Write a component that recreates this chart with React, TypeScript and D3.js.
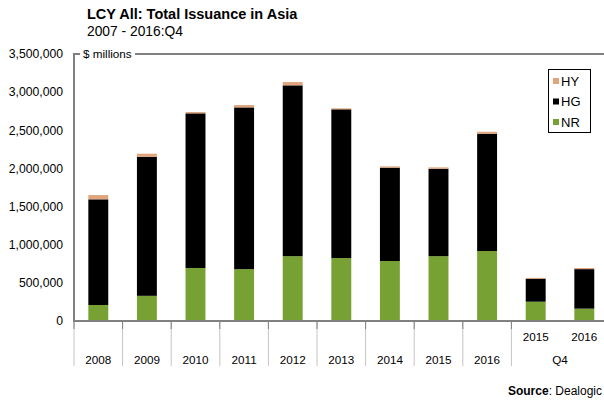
import React, { useEffect } from 'react';
import * as d3 from 'd3';

// categories: annual totals, then Q4 comparisons
const categories = ['2008', '2009', '2010', '2011', '2012', '2013', '2014', '2015', '2016', 'Q4 2015', 'Q4 2016'];
const tickLabels = ['2008', '2009', '2010', '2011', '2012', '2013', '2014', '2015', '2016', '2015', '2016'];

// $ millions
const nrValues = [210000, 330000, 695000, 680000, 850000, 825000, 786000, 850000, 917000, 253000, 162000];
const hgValues = [1385000, 1823000, 2027000, 2120000, 2239000, 1950000, 1224000, 1146000, 1538000, 302000, 518000];
const hyValues = [56000, 40000, 17000, 31000, 43000, 13000, 17000, 18000, 26000, 10000, 15000];

const yTicks = [0, 500000, 1000000, 1500000, 2000000, 2500000, 3000000, 3500000];

const seriesKeys = ['NR', 'HG', 'HY'];
const seriesColors: Record<string, string> = { NR: '#78a133', HG: '#000000', HY: '#e0a57c' };

const W = 604;
const H = 403;
const left = 74;
const top = 54;
const bottom = 321;

export default function App() {
  useEffect(() => {
    document.body.style.margin = '0';
  }, []);

  const rows = categories.map((c, i) => ({ cat: c, NR: nrValues[i], HG: hgValues[i], HY: hyValues[i] }));
  const stacked = d3.stack<any>().keys(seriesKeys)(rows);

  const x = d3.scaleBand<string>()
    .domain(categories)
    .range([left, left + 11 * 48.6])
    .paddingInner(0.59)
    .paddingOuter(0.295);
  const y = d3.scaleLinear().domain([0, 3500000]).range([bottom, top]);
  const step = x.step();
  const fmt = d3.format(',');
  const font = 'Arial, "Liberation Sans", Helvetica, sans-serif';

  return (
    <svg width={W} height={H} style={{ display: 'block', fontFamily: font }}>
      <rect width={W} height={H} fill="#fff" />
      <text x={87} y={19} fontSize={14.5} fontWeight="bold" fill="#000">LCY All:  Total Issuance in Asia</text>
      <text x={87} y={36} fontSize={13.8} fill="#000">2007 - 2016:Q4</text>

      {yTicks.map(t => (
        <text key={t} x={63} y={y(t)} dy="0.35em" textAnchor="end" fontSize={12.2} fill="#000">{fmt(t)}</text>
      ))}

      {stacked.map(s => (
        <g key={s.key} fill={seriesColors[s.key]}>
          {s.map((d, i) => (
            <rect key={i} x={x(categories[i])} width={x.bandwidth()} y={y(d[1])} height={Math.max(0, y(d[0]) - y(d[1]))} />
          ))}
        </g>
      ))}

      {/* category separators below the axis */}
      {d3.range(0, 11).filter(i => i !== 10).map(i => {
        const sx = left + i * step;
        return (
          <g key={i}>
            <line x1={sx} x2={sx} y1={bottom} y2={366} stroke="#c4c4c4" strokeWidth={1} />
            <line x1={sx} x2={sx} y1={bottom} y2={329} stroke="#808080" strokeWidth={1} />
          </g>
        );
      })}

      {tickLabels.map((t, i) => (
        <text key={i} x={(x(categories[i]) as number) + x.bandwidth() / 2} y={363.5 - (i < 9 ? 0 : 23)}
          textAnchor="middle" fontSize={11.7} fill="#000">{t}</text>
      ))}
      <text x={left + 10 * step} y={363.5} textAnchor="middle" fontSize={11.7} fill="#000">Q4</text>

      {/* axis frame */}
      <line x1={left} x2={left} y1={top} y2={bottom} stroke="#808080" strokeWidth={2} />
      <line x1={left - 1} x2={W} y1={bottom} y2={bottom} stroke="#808080" strokeWidth={2} />
      <line x1={left - 1} x2={80} y1={top} y2={top} stroke="#808080" strokeWidth={2} />
      <line x1={135} x2={W} y1={top} y2={top} stroke="#808080" strokeWidth={2} />
      <text x={83} y={top} dy="0.35em" fontSize={11.7} fill="#000">$ millions</text>

      {/* legend */}
      <rect x={548.5} y={69.5} width={42} height={63} fill="#fff" stroke="#000" strokeWidth={1} />
      {['HY', 'HG', 'NR'].map((k, i) => (
        <g key={k}>
          <rect x={553} y={78 + i * 20.5} width={6} height={6} fill={seriesColors[k]} />
          <text x={561} y={81 + i * 20.5} dy="0.35em" fontSize={13} fill="#000">{k}</text>
        </g>
      ))}

      <text x={602} y={395} textAnchor="end" fontSize={12} fill="#000">
        <tspan fontWeight="bold">Source</tspan>: Dealogic
      </text>
    </svg>
  );
}
